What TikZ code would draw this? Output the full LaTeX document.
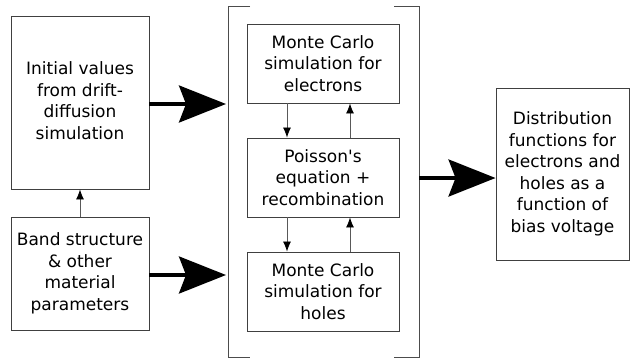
\documentclass[tikz,border=0pt]{standalone}
\usepackage{fontspec}
\setmainfont{DejaVu Sans}
\usetikzlibrary{arrows.meta}
\begin{document}
\begin{tikzpicture}[x=1pt,y=-1pt,
  box/.style={draw=black!75, line width=0.9pt, align=center, inner sep=0pt,
    font=\fontsize{17}{21.5}\selectfont, text=black},
  big/.style={line width=3.5pt, -{Stealth[length=47pt,width=37pt,inset=7pt]}},
  small/.style={draw=black!65, line width=0.8pt, -{Latex[length=10pt,width=8pt,black]}},
  brk/.style={draw=black!70, line width=0.9pt}]
\useasboundingbox (0,0) rectangle (630,360);
% left boxes
\node[box, minimum width=138pt, minimum height=173pt] (init) at (80,102.5)
  {\raisebox{4pt}{\begin{tabular}{@{}c@{}}Initial values\\from drift-\\diffusion\\simulation\end{tabular}}};
\node[box, minimum width=138pt, minimum height=113pt] (band) at (80,273.5)
  {Band structure\\\& other\\material\\parameters};
% inner boxes
\node[box, minimum width=152pt, minimum height=79pt] (mce) at (323,63.5)
  {Monte Carlo\\simulation for\\electrons};
\node[box, minimum width=152pt, minimum height=79pt] (poi) at (323,177.5)
  {Poisson\textquotesingle s\\equation +\\recombination};
\node[box, minimum width=152pt, minimum height=79pt] (mch) at (323,291.5)
  {Monte Carlo\\simulation for\\holes};
% output
\node[box, minimum width=133pt, minimum height=172pt] (dist) at (562.5,174)
  {Distribution\\functions for\\electrons and\\holes as a\\function of\\bias voltage};
% bracket
\draw[brk] (250,6) -- (228,6) -- (228,357) -- (250,357);
\draw[brk] (394,6) -- (419,6) -- (419,357) -- (394,357);
% small arrows
\coordinate (xd) at (287,0);
\coordinate (xu) at (350,0);
\draw[small] (band.north) -- (init.south);
\draw[small] (mce.south -| xd) -- (poi.north -| xd);
\draw[small] (poi.south -| xd) -- (mch.north -| xd);
\draw[small] (poi.north -| xu) -- (mce.south -| xu);
\draw[small] (mch.north -| xu) -- (poi.south -| xu);
% big arrows
\coordinate (a1) at (226,104);
\coordinate (a2) at (226,275);
\coordinate (a3) at (419,178);
\draw[big] (init.east |- a1) -- (a1);
\draw[big] (band.east |- a2) -- (a2);
\draw[big] (a3) -- (dist.west |- a3);
\end{tikzpicture}
\end{document}
